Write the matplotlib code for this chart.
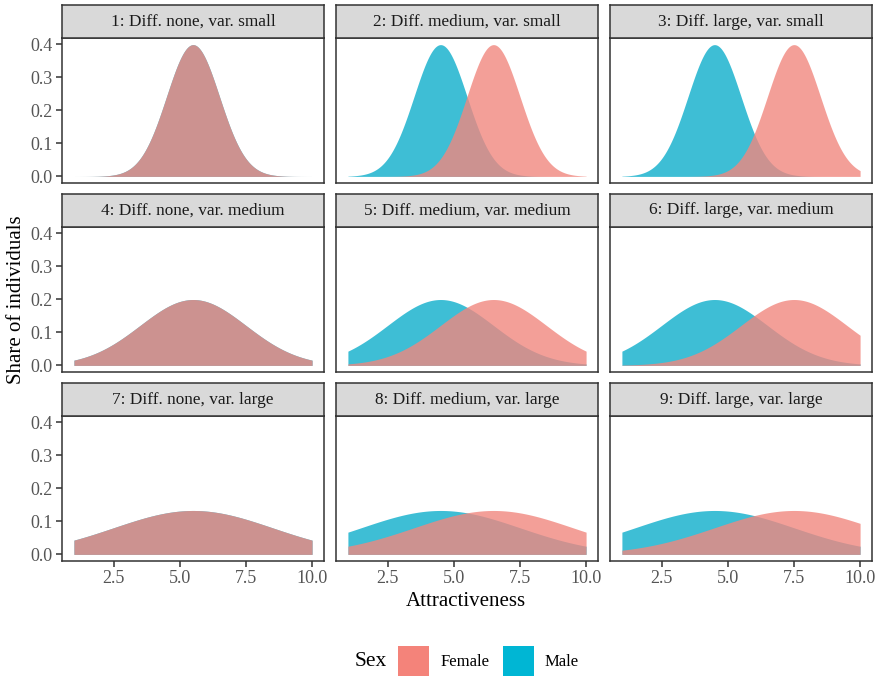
import numpy as np
import matplotlib
matplotlib.use("Agg")
import matplotlib.pyplot as plt
from matplotlib.patches import Rectangle

plt.rcParams['font.family'] = ['Liberation Serif', 'DejaVu Serif']

# ---- data ----
panel_titles = [
    "1: Diff. none, var. small", "2: Diff. medium, var. small", "3: Diff. large, var. small",
    "4: Diff. none, var. medium", "5: Diff. medium, var. medium", "6: Diff. large, var. medium",
    "7: Diff. none, var. large", "8: Diff. medium, var. large", "9: Diff. large, var. large",
]
female_mean = [5.5, 6.5, 7.5, 5.5, 6.5, 7.5, 5.5, 6.5, 7.5]
male_mean = [5.5, 4.5, 4.5, 5.5, 4.5, 4.5, 5.5, 4.5, 4.5]
sd = [1, 1, 1, 2, 2, 2, 3, 3, 3]
x_range = [1.0, 10.0]
x_ticks = [2.5, 5.0, 7.5, 10.0]
x_tick_labels = ["2.5", "5.0", "7.5", "10.0"]
y_ticks = [0.0, 0.1, 0.2, 0.3, 0.4]
y_tick_labels = ["0.0", "0.1", "0.2", "0.3", "0.4"]
series_names = ["Female", "Male"]

# ---- styles ----
W, H = 879, 676
col_female = "#F1877F"
col_male = "#0EAECB"
alpha = 0.8
legend_female = "#F4837A"
legend_male = "#00B6D4"
dark = "#333333"
tick_col = "#555555"

fig = plt.figure(figsize=(W / 100, H / 100), dpi=100)

col_left = [62, 336, 610]
panel_w = 262
strip_top = [5, 194, 383]
strip_h = 33
panel_h = 145


def fr(x, y, w, h):
    return [x / W, 1 - (y + h) / H, w / W, h / H]


def npdf(x, m, s):
    return np.exp(-0.5 * ((x - m) / s) ** 2) / (s * np.sqrt(2 * np.pi))


xs = np.linspace(x_range[0], x_range[1], 400)

for i in range(9):
    r, c = divmod(i, 3)
    px = col_left[c]
    sy = strip_top[r]
    ax = fig.add_axes(fr(px, sy + strip_h, panel_w, panel_h))
    ax.fill_between(xs, 0, npdf(xs, male_mean[i], sd[i]), color=col_male, alpha=alpha, lw=0)
    ax.fill_between(xs, 0, npdf(xs, female_mean[i], sd[i]), color=col_female, alpha=alpha, lw=0)
    ax.set_xlim(0.55, 10.45)
    ax.set_ylim(-0.02, 0.419)
    for sp in ax.spines.values():
        sp.set_color(dark)
        sp.set_linewidth(1.1)
    ax.set_xticks(x_ticks)
    ax.set_yticks(y_ticks)
    ax.tick_params(colors=dark, labelcolor=tick_col, labelsize=13, length=4.5, width=1.1, pad=2)
    if r == 2:
        ax.set_xticklabels(x_tick_labels)
    else:
        ax.tick_params(axis='x', length=0, labelbottom=False)
    if c == 0:
        ax.set_yticklabels(y_tick_labels)
    else:
        ax.tick_params(axis='y', length=0, labelleft=False)

    sax = fig.add_axes(fr(px, sy, panel_w, strip_h))
    sax.set_facecolor("#D9D9D9")
    sax.set_xticks([])
    sax.set_yticks([])
    for sp in sax.spines.values():
        sp.set_color(dark)
        sp.set_linewidth(1.1)
    sax.text(0.5, 0.5, panel_titles[i], ha='center', va='center', fontsize=12.4,
             color="#1A1A1A", transform=sax.transAxes)

fig.text(466 / W, 1 - 602 / H, "Attractiveness", ha='center', va='center', fontsize=15, color='black')
fig.text(17 / W, 1 - 300 / H, "Share of individuals", ha='center', va='center', rotation=90,
         fontsize=15, color='black')

# legend
fig.text(371 / W, 1 - 662 / H, "Sex", ha='center', va='center', fontsize=15.5, color='black')
for (x0, name, colr, tx) in [(398, series_names[0], legend_female, 441), (503, series_names[1], legend_male, 545)]:
    fig.add_artist(Rectangle((x0 / W, 1 - 678 / H), 31 / W, 32 / H, transform=fig.transFigure,
                             facecolor=colr, edgecolor='none'))
    fig.text(tx / W, 1 - 662 / H, name, ha='left', va='center', fontsize=12, color='black')

fig.savefig("out.png", dpi=100)
